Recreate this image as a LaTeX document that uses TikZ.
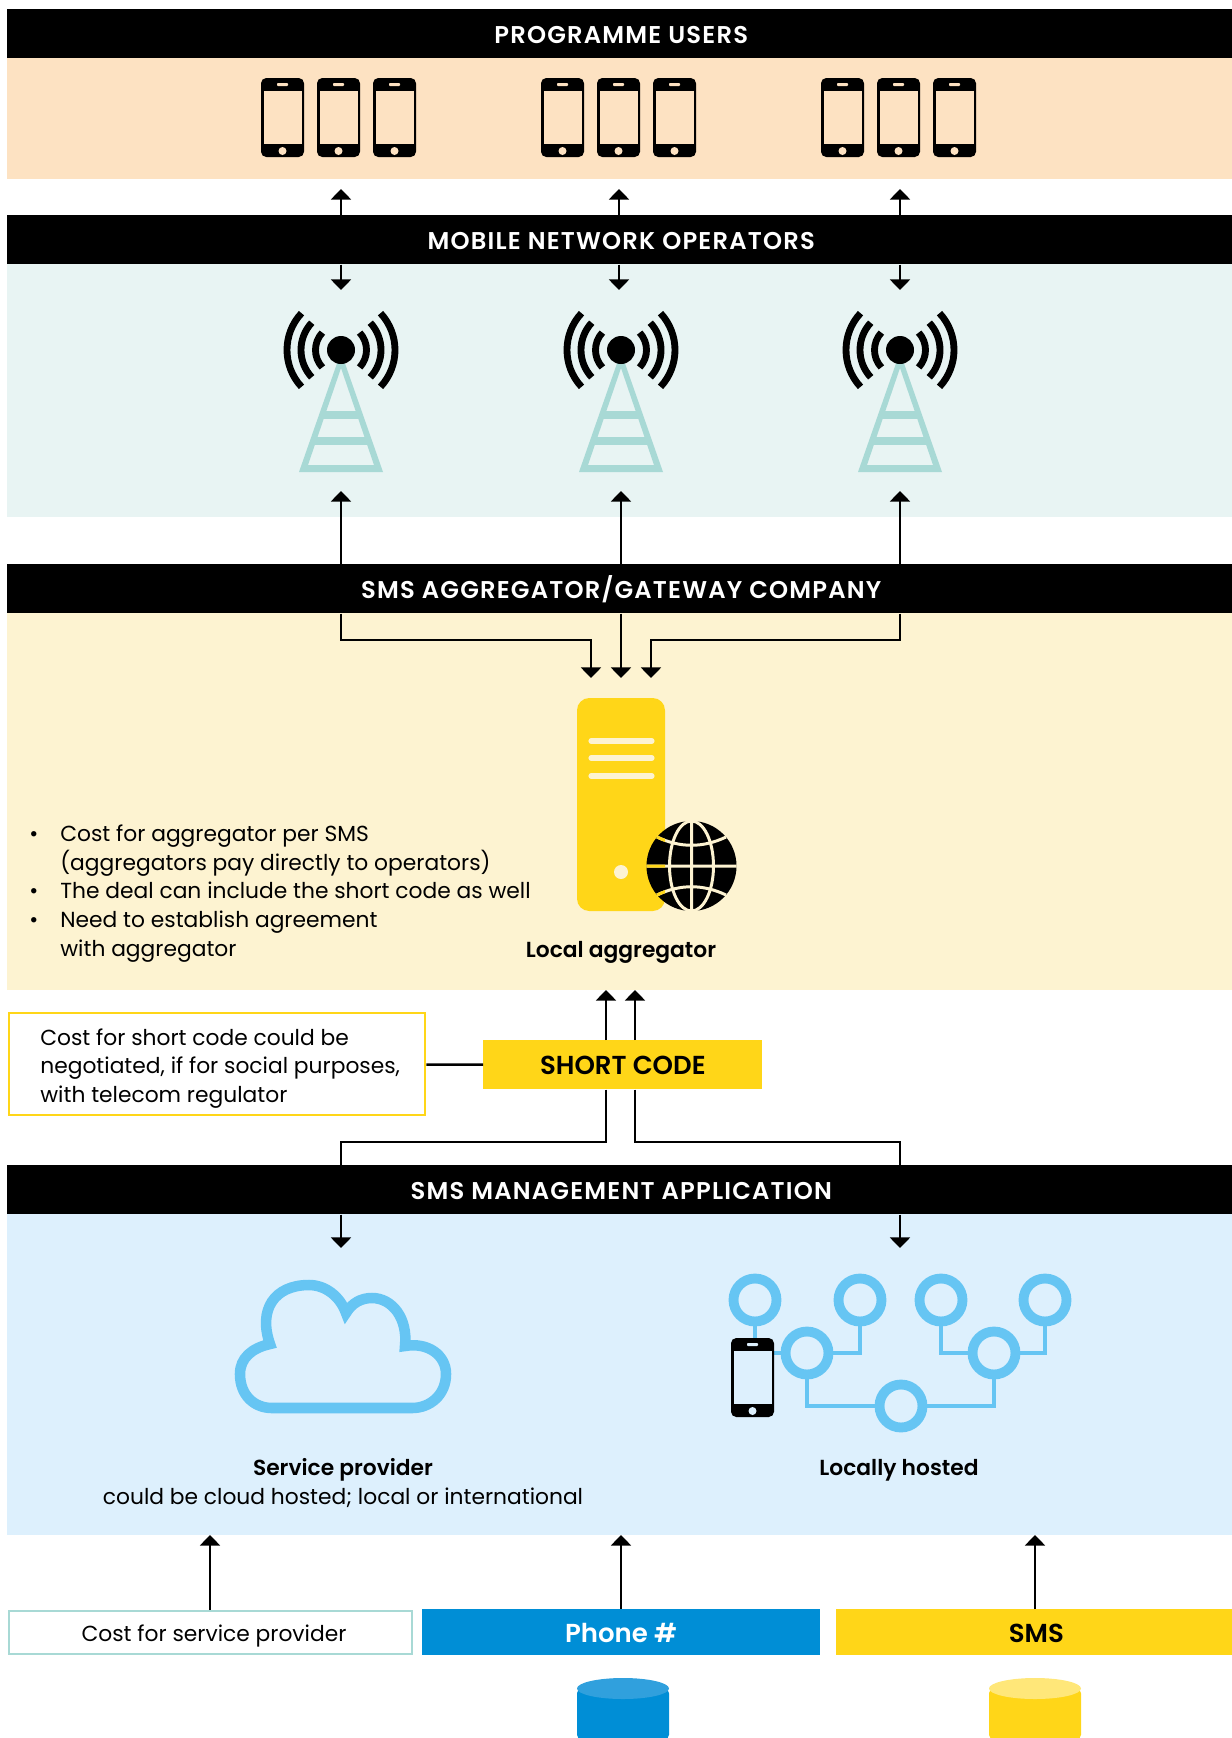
\documentclass[tikz,border=0pt]{standalone}
\usepackage{fontspec}
\setmainfont[BoldFont={Poppins SemiBold}]{Poppins}
\newfontfamily\barfont[LetterSpace=5,BoldFont={Poppins SemiBold}]{Poppins}
\usetikzlibrary{arrows.meta}
\definecolor{pgold}{HTML}{FFD618}
\definecolor{pgoldlight}{HTML}{FFE779}
\definecolor{pblue}{HTML}{008ED6}
\definecolor{pbluelight}{HTML}{30A0DD}
\definecolor{psky}{HTML}{66C5F3}
\definecolor{pteal}{HTML}{A8D9D5}
\definecolor{porange}{HTML}{FDE2C2}
\definecolor{ptealpanel}{HTML}{E8F4F3}
\definecolor{pgoldpanel}{HTML}{FDF3D1}
\definecolor{pskypanel}{HTML}{DDF0FD}
\tikzset{
  bodytext/.style={font=\fontsize{12.4}{16.3}\selectfont, inner sep=0pt, text height=9pt, text depth=3pt},
  boldtext/.style={font=\fontsize{12.4}{16.3}\selectfont\bfseries, inner sep=0pt, text height=9pt, text depth=3pt},
  bar/.style={fill=black, text=white, anchor=north west, inner sep=0pt, text height=11.4pt, text depth=0pt,
    minimum width=24.56cm, minimum height=.98cm, font=\fontsize{13.8}{16}\selectfont\barfont\bfseries},
  tag/.style={anchor=north west, inner sep=0pt, minimum height=.92cm, text height=11.4pt, text depth=0pt,
    font=\fontsize{14.8}{16}\selectfont\bfseries},
  ring/.style={circle, draw=psky, fill=pskypanel, line width=5.6pt, inner sep=0pt, minimum size=.86cm},
  phone/.pic={
    \fill[black, rounded corners=3pt] (0,0) rectangle (43,79);
    \fill[#1] (2.5,13) rectangle (40.5,66);
    \fill[#1, rounded corners=.5pt] (16,5) rectangle (27,8);
    \fill[#1] (21.5,73) circle (4);
  },
  tower/.pic={
    \fill[pteal, even odd rule] (0,2) -- (42,122) -- (-42,122) -- cycle
      (0,18) -- (33,115) -- (-33,115) -- cycle;
    \draw[pteal, line width=4.25pt] (-20,65) -- (20,65) (-29,91) -- (29,91);
    \fill[black] (0,0) circle (14);
    \draw[black, line width=3.9pt]
      (-43:25.5) arc (-43:43:25.5) (-43:40) arc (-43:43:40) (-43:54) arc (-43:43:54)
      (137:25.5) arc (137:223:25.5) (137:40) arc (137:223:40) (137:54) arc (137:223:54);
  }
}
\begin{document}
\begin{tikzpicture}[x=0.02cm,y=-0.02cm]
  \useasboundingbox (0,0) rectangle (1231,1738);
  \fill[porange] (7,58) rectangle (1235,179);
  \fill[ptealpanel] (7,264) rectangle (1235,517);
  \fill[pgoldpanel] (7,613) rectangle (1235,990);
  \fill[pskypanel] (7,1213) rectangle (1235,1535);

  \node[bar] (users) at (7,9) {PROGRAMME USERS};
  \node[bar] (mno) at (7,215) {MOBILE NETWORK OPERATORS};
  \node[bar] (gateway) at (7,564) {SMS AGGREGATOR/GATEWAY COMPANY};
  \node[bar] (app) at (7,1165) {SMS MANAGEMENT APPLICATION};
  \node[tag, fill=pgold, minimum width=5.58cm, minimum height=.98cm] (short) at (483,1040) {SHORT CODE};
  \node[draw=pgold, line width=1.4pt, anchor=north west, inner sep=0pt, minimum width=8.32cm, minimum height=2.04cm] (note) at (8,1012) {};
  \node[bodytext, anchor=west, align=left] (notetext) at (40,1097) {Cost for short code could be\\negotiated, if for social purposes,\\with telecom regulator};
  \node[draw=pteal, line width=1.4pt, anchor=north west, inner sep=0pt, minimum width=8.06cm, minimum height=.86cm] (fee) at (8,1610) {};
  \node[bodytext] (feetext) at (214,1636) {Cost for service provider};
  \node[tag, fill=pblue, text=white, minimum width=7.95cm] (number) at (422,1609) {Phone \#};
  \node[tag, fill=pgold, minimum width=8cm] (sms) at (836,1609) {SMS};

  \pic at (261,78) {phone=porange};
  \pic at (317,78) {phone=porange};
  \pic at (373,78) {phone=porange};
  \pic at (541,78) {phone=porange};
  \pic at (597,78) {phone=porange};
  \pic at (653,78) {phone=porange};
  \pic at (821,78) {phone=porange};
  \pic at (877,78) {phone=porange};
  \pic at (933,78) {phone=porange};

  \pic at (341,350) {tower};
  \pic at (621,350) {tower};
  \pic at (900,350) {tower};

  \fill[pgold, rounded corners=7pt] (577,698) rectangle (665,911);
  \draw[pgoldpanel, line width=2.9pt, line cap=round] (591,741) -- (652,741) (591,758) -- (652,758) (591,776) -- (652,776);
  \fill[pgoldpanel] (621,872) circle (7);
  \fill[black] (691.5,866) circle (45);
  \draw[pgoldpanel, line width=1.7pt]
    (691.5,821) -- (691.5,911) (646.5,866) -- (736.5,866) (691.5,866) ellipse (22 and 45)
    (657,837) .. controls (680,848) and (703,848) .. (726,837)
    (657,895) .. controls (680,884) and (703,884) .. (726,895);
  \begin{scope}
    \clip (577,698) rectangle (665,911);
    \draw[pgold, line width=1.7pt] (646.5,866) -- (665,866)
      (657,837) .. controls (680,848) and (703,848) .. (726,837)
      (657,895) .. controls (680,884) and (703,884) .. (726,895);
  \end{scope}
  \node[boldtext] (local) at (621,952) {Local aggregator};

  \draw[psky, line width=6pt, line join=miter]
    (270,1344) .. controls (258,1310) and (274,1285) .. (309,1285)
    .. controls (325,1285) and (340,1296) .. (346,1313)
    .. controls (352,1303) and (361,1298) .. (372,1298)
    .. controls (392,1298) and (408,1318) .. (405,1346)
    .. controls (428,1342) and (446,1355) .. (446,1374)
    .. controls (446,1395) and (430,1408) .. (412,1408)
    -- (272,1408)
    .. controls (254,1408) and (240,1395) .. (240,1374)
    .. controls (240,1358) and (252,1348) .. (270,1344) -- cycle;
  \node[boldtext] (provider) at (343,1470) {Service provider};
  \node[bodytext] (hosted) at (343,1499) {could be cloud hosted; local or international};

  \node[ring] (c1) at (755,1300) {};
  \node[ring] (c2) at (860,1300) {};
  \node[ring] (c3) at (941,1300) {};
  \node[ring] (c4) at (1045,1300) {};
  \node[ring] (c5) at (807,1353) {};
  \node[ring] (c6) at (994,1353) {};
  \node[ring] (c7) at (901,1406) {};
  \begin{scope}[psky, line width=2.6pt]
    \draw (c1) |- (c5);
    \draw (c2) |- (c5);
    \draw (c3) |- (c6);
    \draw (c4) |- (c6);
    \draw (c5) |- (c7);
    \draw (c6) |- (c7);
  \end{scope}
  \pic at (731,1338) {phone=pskypanel};
  \node[boldtext] (hostedlocal) at (899,1470) {Locally hosted};

  \fill[pblue, rounded corners=3pt] (577,1688) -- (577,1740) -- (669,1740) -- (669,1688) -- cycle;
  \fill[pbluelight] (623,1688.5) ellipse (46 and 10.5);
  \fill[pgold, rounded corners=3pt] (989,1688) -- (989,1740) -- (1081,1740) -- (1081,1688) -- cycle;
  \fill[pgoldlight] (1035,1688.5) ellipse (46 and 10.5);

  \node[bodytext, anchor=west] (b0) at (29,836) {\textbullet};
  \node[bodytext, anchor=west, align=left] (b1) at (60,865) {Cost for aggregator per SMS\\(aggregators pay directly to operators)};
  \node[bodytext, anchor=west] (b2) at (29,893) {\textbullet};
  \node[bodytext, anchor=west] (b3) at (60,893) {The deal can include the short code as well};
  \node[bodytext, anchor=west] (b4) at (29,922) {\textbullet};
  \node[bodytext, anchor=west, align=left] (b5) at (60,951) {Need to establish agreement\\with aggregator};

  \draw
    (341,189) coordinate (u1)
    (619,189) coordinate (u2)
    (900,189) coordinate (u3)
    (341,290) coordinate (d1)
    (619,290) coordinate (d2)
    (900,290) coordinate (d3)
    (341,491) coordinate (t1)
    (621,491) coordinate (t2)
    (900,491) coordinate (t3)
    (591,640) coordinate (m1)
    (651,640) coordinate (m3)
    (591,678) coordinate (s1)
    (621,678) coordinate (s2)
    (651,678) coordinate (s3)
    (606,990) coordinate (k1)
    (635,990) coordinate (k2)
    (341,1142) coordinate (j1)
    (900,1142) coordinate (j2)
    (341,1248) coordinate (h1)
    (900,1248) coordinate (h2)
    (210,1535) coordinate (f1)
    (621,1535) coordinate (f2)
    (1035,1535) coordinate (f3);

  \begin{scope}[-{Triangle[width=11.3pt,length=6pt]}, line width=1.4pt]
    \draw (mno.north -| u1) to (u1);
    \draw (mno.north -| u2) to (u2);
    \draw (mno.north -| u3) to (u3);
    \draw (mno.south -| d1) to (d1);
    \draw (mno.south -| d2) to (d2);
    \draw (mno.south -| d3) to (d3);
    \draw (gateway.north -| t1) to (t1);
    \draw (gateway.north -| t2) to (t2);
    \draw (gateway.north -| t3) to (t3);
    \draw (gateway.south -| t1) |- (m1) to (s1);
    \draw (gateway.south -| t2) to (s2);
    \draw (gateway.south -| t3) |- (m3) to (s3);
    \draw (short.north -| k1) to (k1);
    \draw (short.north -| k2) to (k2);
    \draw (app.south -| h1) to (h1);
    \draw (app.south -| h2) to (h2);
    \draw (fee.north -| f1) to (f1);
    \draw (number.north -| f2) to (f2);
    \draw (sms.north -| f3) to (f3);
  \end{scope}
  \begin{scope}[-, line width=1.4pt]
    \draw (note) to (short);
    \draw (short.south -| k1) |- (j1) to (app.north -| j1);
    \draw (short.south -| k2) |- (j2) to (app.north -| j2);
  \end{scope}
\end{tikzpicture}
\end{document}
